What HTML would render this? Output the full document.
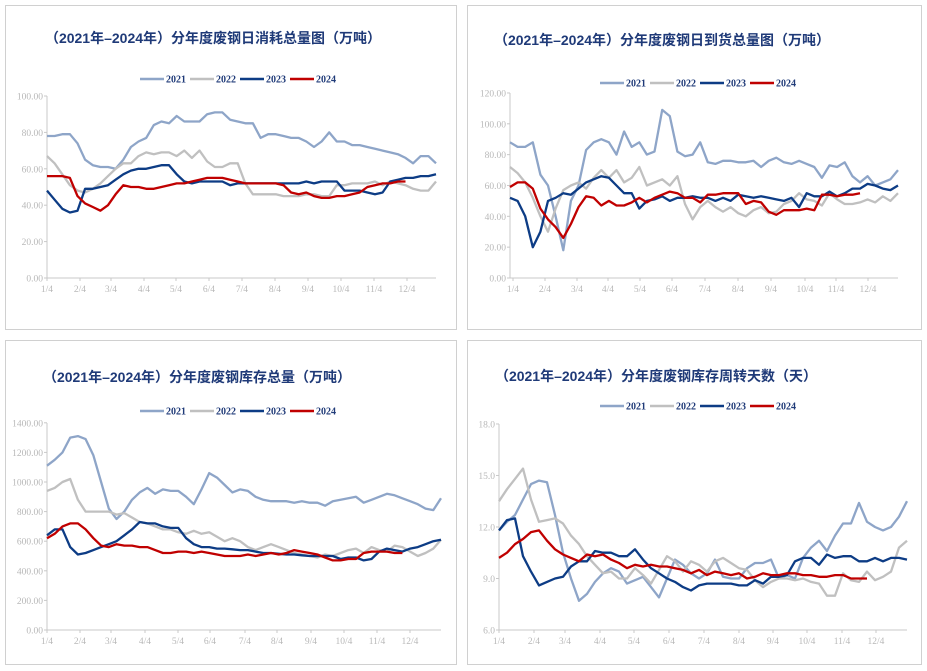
<!DOCTYPE html>
<html><head><meta charset="utf-8"><style>
body{margin:0;background:#fff;}
svg{display:block;font-family:"Liberation Serif","Noto Serif CJK SC",serif;}
.t{font-family:"Liberation Sans","Noto Sans CJK SC",sans-serif;font-weight:bold;fill:#1f3a78;font-size:14px;}
.lg{font-size:10px;fill:#1f3a78;font-weight:bold;}
.ax{font-size:9.5px;fill:#b8b8b8;}
</style></head><body>
<svg id="s" width="927" height="671" viewBox="0 0 927 671" xmlns="http://www.w3.org/2000/svg">
<rect x="5.5" y="5.5" width="451" height="324" fill="none" stroke="#d0d0d0"/>
<rect x="467.5" y="5.5" width="454" height="324" fill="none" stroke="#d0d0d0"/>
<rect x="5.5" y="340.5" width="451" height="324" fill="none" stroke="#d0d0d0"/>
<rect x="467.5" y="340.5" width="454" height="324" fill="none" stroke="#d0d0d0"/>
<text class="t" x="213" y="43" text-anchor="middle">（2021年–2024年）分年度废钢日消耗总量图（万吨）</text>
<text class="t" x="662" y="45" text-anchor="middle">（2021年–2024年）分年度废钢日到货总量图（万吨）</text>
<text class="t" x="197" y="382" text-anchor="middle">（2021年–2024年）分年度废钢库存总量（万吨）</text>
<text class="t" x="656" y="381" text-anchor="middle">（2021年–2024年）分年度废钢库存周转天数（天）</text>
</svg>
<script>
const S=document.getElementById('s');const NS='http://www.w3.org/2000/svg';
function el(t,a,txt){const e=document.createElementNS(NS,t);for(const k in a)e.setAttribute(k,a[k]);if(txt!==undefined)e.textContent=txt;S.appendChild(e);return e;}
const C=['#8ea5c8','#c0c0c0','#0d3c85','#c00000'];
function legend(cx,y){const names=['2021','2022','2023','2024'];let x=cx-100;for(let i=0;i<4;i++){el('line',{x1:x,y1:y,x2:x+24,y2:y,stroke:C[i],'stroke-width':2.5});el('text',{x:x+26,y:y+3.5,class:'lg'},names[i]);x+=50;}}
function panel(p){
 // axes
 el('line',{x1:p.x0,y1:p.yTop,x2:p.x0,y2:p.yB,stroke:'#c8c8c8'});
 el('line',{x1:p.x0,y1:p.yB,x2:p.xEnd,y2:p.yB,stroke:'#c8c8c8'});
 p.yt.forEach(v=>{const y=p.Y(v);el('line',{x1:p.x0-3,y1:y,x2:p.x0,y2:y,stroke:'#c8c8c8'});el('text',{x:p.x0-4,y:y+3.5,'text-anchor':'end',class:'ax'},p.fmt(v));});
 const ms=['1/4','2/4','3/4','4/4','5/4','6/4','7/4','8/4','9/4','10/4','11/4','12/4'];
 ms.forEach((m,i)=>{const x=p.xm[i];el('line',{x1:x,y1:p.yB,x2:x,y2:p.yB+3,stroke:'#c8c8c8'});el('text',{x:x,y:p.yB+14,'text-anchor':'middle',class:'ax'},m);});
 p.d.forEach((arr,k)=>{const step=(p.xEnd-p.x0)/51;const pts=arr.slice(0,52).map((v,i)=>(p.x0+i*step).toFixed(1)+','+p.Y(v).toFixed(1)).join(' ');
  el('polyline',{points:pts,fill:'none',stroke:C[k],'stroke-width':2.3,'stroke-linejoin':'round'});});
 legend(p.lx,p.ly);
}
function lin(a,b,n){return Array.from({length:n},(_,i)=>a+(b-a)*i/(n-1));}
panel({x0:47,xEnd:436,yTop:96,yB:278,Y:v=>278-v*1.82,yt:[0,20,40,60,80,100],fmt:v=>v.toFixed(2),
 xm:[47,80,111,144,176,209,242,275,308,341,374,407],lx:240,ly:79,
 d:[[78,78,79,79,74,65,62,61,61,60,65,72,75,77,84,86,85,89,86,86,86,90,91,91,87,86,85,85,77,79,79,78,77,77,75,72,75,80,75,75,73,73,72,71,70,69,68,66,63,67,67,63],
 [67,63,57,51,48,47,49,52,56,60,63,63,67,69,68,69,69,67,70,66,70,64,61,61,63,63,52,46,46,46,46,45,45,45,46,46,45,45,51,51,52,52,52,53,51,53,52,51,49,48,48,53,50],
 [48,43,38,36,37,49,49,50,51,54,57,59,60,60,61,62,62,57,53,52,53,53,53,53,51,52,52,52,52,52,52,52,52,52,53,52,53,53,53,48,48,48,47,46,47,53,54,55,55,56,56,57],
 [56,56,56,55,45,41,39,37,40,46,51,50,50,49,49,50,51,52,52,53,54,55,55,55,54,53,52,52,52,52,52,51,47,46,47,45,44,44,45,45,46,47,50,51,52,52,53,53]]});
panel({x0:510,xEnd:898,yTop:93,yB:278,Y:v=>278-v*1.542,yt:[0,20,40,60,80,100,120],fmt:v=>v.toFixed(2),
 xm:[513,545,577,608,640,672,705,738,771,805,836,868],lx:700,ly:83,
 d:[[88,85,85,88,67,60,40,18,50,60,83,88,90,88,80,95,85,88,80,82,109,105,82,79,80,88,75,74,76,76,75,75,76,72,76,78,75,74,76,74,72,65,73,72,75,66,62,66,60,62,64,70],
 [72,68,62,52,40,30,45,57,60,62,58,65,70,65,70,62,65,72,60,62,64,60,66,48,38,46,50,46,43,46,42,40,44,46,42,43,48,50,55,51,50,47,55,51,48,48,49,51,49,53,50,55],
 [52,50,40,20,30,50,52,55,54,58,62,64,66,65,60,55,55,45,50,51,53,50,52,52,53,52,52,50,52,50,54,53,52,53,52,51,50,52,46,55,53,53,56,53,55,58,58,61,60,58,57,60],
 [59,62,62,58,45,38,33,26,35,46,53,52,47,50,47,47,49,52,49,52,54,56,55,52,52,49,54,54,55,55,55,48,50,49,43,41,44,44,44,45,44,54,54,53,54,54,55]]});
panel({x0:47,xEnd:441,yTop:423,yB:630,Y:v=>630-v*0.148,yt:[0,200,400,600,800,1000,1200,1400],fmt:v=>v.toFixed(2),
 xm:[47,80,111,145,178,210,245,277,311,344,377,410],lx:240,ly:411,
 d:[[1110,1150,1200,1300,1310,1290,1180,1000,820,750,800,880,930,960,920,950,940,940,900,850,950,1060,1030,980,930,950,940,900,880,870,870,870,860,870,860,860,840,870,880,890,900,860,880,900,920,910,890,870,850,820,810,890],
 [940,960,1000,1020,880,800,800,800,800,780,790,760,730,720,700,680,680,660,650,670,650,660,630,600,620,600,560,540,560,580,560,540,520,510,500,490,510,500,520,540,550,520,560,540,530,570,560,530,500,520,550,610],
 [640,680,680,560,510,520,540,560,580,600,640,680,730,720,720,700,690,690,620,580,560,560,550,550,545,540,540,530,520,520,515,510,510,505,500,500,500,500,480,490,490,470,480,530,550,540,530,550,560,580,600,610],
 [620,650,700,720,720,680,620,570,560,580,570,570,560,560,540,520,520,530,530,520,530,520,510,500,500,500,510,500,510,520,510,520,540,530,520,510,490,470,470,480,480,520,530,530,530,520,520]]});
panel({x0:499,xEnd:907,yTop:424,yB:630,Y:v=>630-(v-6)*17.17,yt:[6,9,12,15,18],fmt:v=>v.toFixed(1),
 xm:[499,534,565,600,634,669,704,739,773,807,842,876],lx:700,ly:406,
 d:[[11.8,12.3,12.7,13.6,14.5,14.7,14.6,12.7,10.5,9.0,7.7,8.1,8.8,9.3,9.6,9.4,8.7,8.9,9.1,8.5,7.9,9.0,10.1,9.8,9.3,9.0,9.3,10.1,9.1,9.0,9.0,9.6,9.9,9.9,10.1,9.0,9.2,9.0,10.2,10.8,11.2,10.6,11.5,12.2,12.2,13.4,12.3,12.0,11.8,12.0,12.6,13.5],
 [13.5,14.2,14.8,15.4,13.6,12.3,12.4,12.5,12.2,11.5,11.0,10.3,9.8,9.3,9.4,9.0,9.0,9.6,9.2,8.7,9.5,10.3,10.0,9.4,10.0,9.8,9.4,10.0,10.2,9.9,9.6,9.5,8.9,8.5,8.8,9.0,9.0,8.9,9.0,8.8,8.7,8.0,8.0,9.3,8.9,8.8,9.4,8.9,9.1,9.4,10.8,11.2],
 [11.8,12.4,12.5,10.3,9.4,8.6,8.8,9.0,9.1,9.7,10.0,10.0,10.6,10.5,10.5,10.3,10.3,10.7,10.1,9.6,9.3,9.0,8.8,8.5,8.3,8.6,8.7,8.7,8.7,8.7,8.6,8.6,8.9,8.7,9.1,9.1,9.2,10.0,10.2,10.2,9.8,10.4,10.2,10.3,10.3,10.0,10.0,10.2,10.0,10.2,10.2,10.1],
 [10.2,10.5,11.0,11.3,11.7,11.8,11.2,10.7,10.4,10.2,10.0,10.4,10.3,10.4,10.1,9.9,9.6,9.8,9.7,9.8,9.7,9.7,9.6,9.5,9.3,9.5,9.2,9.4,9.3,9.2,9.3,9.0,9.1,9.3,9.2,9.2,9.3,9.3,9.2,9.2,9.1,9.1,9.2,9.2,9.0,9.0,9.0]]});
</script>
</body></html>
